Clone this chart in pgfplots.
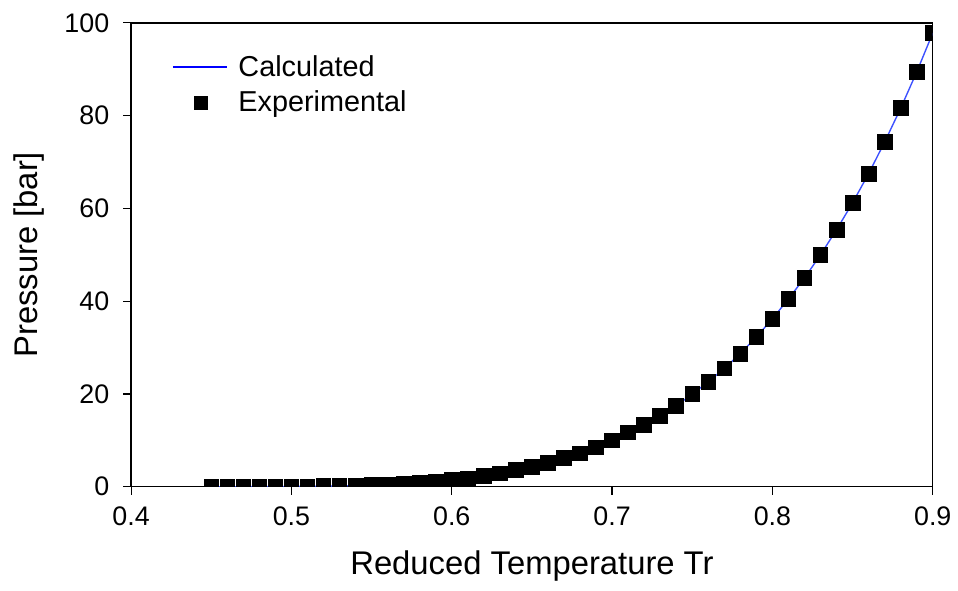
\documentclass[border=0pt]{standalone}
\usepackage{pgfplots}
\pgfplotsset{compat=1.18}
\usepackage{fontspec}
\setmainfont{Liberation Sans}
\begin{document}
\begin{tikzpicture}
\begin{axis}[
  name=ax,
  scale only axis,
  width=403.5pt, height=233.5pt,
  xmin=0.4, xmax=0.9, ymin=0, ymax=100,
  xtick={0.4,0.5,...,0.9}, ytick={0,20,...,100},
  xticklabels={0.4,0.5,0.6,0.7,0.8,0.9},
  tick align=outside, xtick pos=bottom, ytick pos=left,
  major tick length=4pt,
  tick style={black, line width=0.6pt},
  axis line style={line width=0.7pt},
  /pgf/number format/assume math mode=true,
  ticklabel style={font=\fontsize{13.5}{16}\selectfont},
  xticklabel style={yshift=-2.5pt},
  yticklabel style={xshift=-3.5pt},
  xlabel={Reduced Temperature Tr},
  ylabel={Pressure [bar]},
  label style={font=\fontsize{16.5}{19}\selectfont},
  xlabel style={at={(axis description cs:0.5,-0.171)}, anchor=center},
  ylabel style={at={(axis description cs:-0.127,0.5)}, anchor=center},
  legend style={draw=none, fill=none, at={(0.043,0.948)}, anchor=north west,
    font=\fontsize{14.5}{17.5}\selectfont, row sep=2pt, column sep=3.5pt},
  legend cell align=left,
]
\addplot[color={rgb,255:red,60;green,80;blue,255}, line width=0.7pt, no marks,
  legend image code/.code={\draw[color={rgb,255:red,0;green,0;blue,255}, line width=1pt] (0pt,0pt) -- (27pt,0pt);}] table {
x y
0.45 0.004
0.46 0.006
0.47 0.01
0.48 0.02
0.49 0.03
0.50 0.05
0.51 0.08
0.52 0.12
0.53 0.17
0.54 0.24
0.55 0.33
0.56 0.45
0.57 0.6
0.58 0.8
0.59 1.1
0.60 1.4
0.61 1.8
0.62 2.3
0.63 2.9
0.64 3.6
0.65 4.3
0.66 5.2
0.67 6.2
0.68 7.2
0.69 8.5
0.70 10.0
0.71 11.7
0.72 13.3
0.73 15.3
0.74 17.4
0.75 20.0
0.76 22.6
0.77 25.5
0.78 28.7
0.79 32.3
0.80 36.2
0.81 40.5
0.82 45.0
0.83 50.0
0.84 55.4
0.85 61.2
0.86 67.5
0.87 74.3
0.88 81.6
0.89 89.4
0.90 97.8
};
\addlegendentry{Calculated}
\addplot[only marks, mark=square*, mark size=3.7pt, black, clip mode=individual,
  legend image code/.code={\fill[black] (10.75pt,-3.25pt) rectangle (17.25pt,3.25pt);}] table {
x y
0.45 0.004
0.46 0.006
0.47 0.01
0.48 0.02
0.49 0.03
0.50 0.05
0.51 0.08
0.52 0.12
0.53 0.17
0.54 0.24
0.55 0.33
0.56 0.45
0.57 0.6
0.58 0.8
0.59 1.1
0.60 1.4
0.61 1.8
0.62 2.3
0.63 2.9
0.64 3.6
0.65 4.3
0.66 5.2
0.67 6.2
0.68 7.2
0.69 8.5
0.70 10.0
0.71 11.7
0.72 13.3
0.73 15.3
0.74 17.4
0.75 20.0
0.76 22.6
0.77 25.5
0.78 28.7
0.79 32.3
0.80 36.2
0.81 40.5
0.82 45.0
0.83 50.0
0.84 55.4
0.85 61.2
0.86 67.5
0.87 74.3
0.88 81.6
0.89 89.4
0.90 97.8
};
\addlegendentry{Experimental}
\end{axis}
\path (ax.south west) ++(-66pt,-52pt) rectangle ++(479pt,297pt);
\end{tikzpicture}
\end{document}
